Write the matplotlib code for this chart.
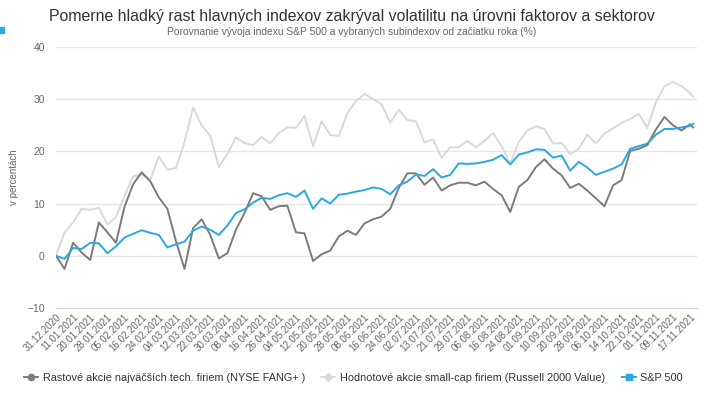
import numpy as np
import matplotlib
matplotlib.use('Agg')
import matplotlib.pyplot as plt
from matplotlib.patches import Rectangle

plt.rcParams['font.family'] = ['Liberation Sans', 'DejaVu Sans']

# Trading-day labels on the x axis (every 6th session)
date_labels = ['31.12.2020', '11.01.2021', '20.01.2021', '28.01.2021', '05.02.2021', '16.02.2021',
               '24.02.2021', '04.03.2021', '12.03.2021', '22.03.2021', '30.03.2021', '08.04.2021',
               '16.04.2021', '26.04.2021', '04.05.2021', '12.05.2021', '20.05.2021', '28.05.2021',
               '08.06.2021', '16.06.2021', '24.06.2021', '02.07.2021', '13.07.2021', '21.07.2021',
               '29.07.2021', '06.08.2021', '16.08.2021', '24.08.2021', '01.09.2021', '10.09.2021',
               '20.09.2021', '28.09.2021', '06.10.2021', '14.10.2021', '22.10.2021', '01.11.2021',
               '09.11.2021', '17.11.2021']
label_day = list(range(0, 223, 6))

day = list(range(0, 223, 3)) + [223]

fang = [0, -2.5, 2.5, 0.6, -0.8, 6.4, 4.5, 2.5, 9.4, 13.7, 16.0, 14.3, 11.2,
        9.0, 2.8, -2.5, 5.3, 7.0, 4.0, -0.5, 0.5, 5.0, 8.2, 12.0, 11.4, 8.8,
        9.5, 9.6, 4.5, 4.3, -1.0, 0.3, 1.0, 3.7, 4.8, 4.0, 6.2, 7.0, 7.5,
        9.0, 13.0, 15.8, 15.8, 13.6, 15.0, 12.5, 13.5, 14.0, 14.0, 13.5, 14.2, 12.8,
        11.6, 8.4, 13.2, 14.5, 17.0, 18.5, 16.7, 15.4, 13.0, 13.8, 12.5, 11.0,
        9.5, 13.5, 14.5, 20.1, 20.5, 21.2, 24.2, 26.6, 25.0, 24.0, 25.2, 24.6]

russell = [0, 4.5, 6.4, 9.0, 8.8, 9.2, 6.0, 7.4, 11.5, 15.2, 15.6, 14.5, 19.0,
           16.5, 16.8, 21.8, 28.4, 25.0, 23.0, 17.0, 19.5, 22.7, 21.6, 21.2, 22.8, 21.5,
           23.5, 24.6, 24.5, 26.8, 21.0, 25.8, 23.1, 23.0, 27.3, 29.6, 31.0, 30.0, 29.0,
           25.5, 28.0, 26.0, 25.8, 21.7, 22.3, 18.8, 20.8, 20.8, 22.0, 20.8, 22.0, 23.5,
           21.0, 17.7, 21.8, 24.0, 24.8, 24.3, 21.5, 21.6, 19.5, 20.5, 23.2, 21.5,
           23.4, 24.4, 25.5, 26.2, 27.2, 24.5, 29.4, 32.5, 33.3, 32.5, 31.2, 30.5]

sp500 = [0, -0.6, 1.5, 1.3, 2.5, 2.4, 0.5, 1.8, 3.5, 4.2, 4.9, 4.4, 4.0,
         1.6, 2.2, 2.7, 4.8, 5.6, 5.0, 4.0, 5.8, 8.2, 8.9, 10.2, 11.1, 10.9,
         11.6, 12.0, 11.3, 12.5, 9.0, 11.0, 10.0, 11.7, 11.9, 12.3, 12.6, 13.1, 12.8,
         11.8, 13.5, 14.2, 15.6, 15.3, 16.6, 15.0, 15.5, 17.7, 17.6, 17.7, 18.0, 18.4,
         19.3, 17.5, 19.4, 19.8, 20.4, 20.3, 18.8, 19.2, 16.3, 18.0, 16.9, 15.5,
         16.1, 16.7, 17.5, 20.5, 21.0, 21.5, 23.2, 24.3, 24.3, 24.6, 24.9, 25.3]

c_fang = '#7b7b7b'
c_russell = '#d9d9d9'
c_sp = '#2aa8e4'

fig = plt.figure(figsize=(7.04, 4.00), dpi=100)
ax = fig.add_axes([0.0795, 0.23, 0.911, 0.6525])

ax.plot(day, russell, color=c_russell, lw=1.4, zorder=2)
ax.plot(day, fang, color=c_fang, lw=1.4, zorder=3)
ax.plot(day, sp500, color=c_sp, lw=1.4, zorder=4)

ax.set_xlim(0, 224.5)
ax.set_ylim(-10, 40)
ax.set_yticks(range(-10, 41, 10))
ax.set_xticks(label_day)
ax.set_xticklabels(date_labels, rotation=45, ha='right', rotation_mode='anchor')
ax.tick_params(axis='x', length=0, labelsize=7, labelcolor='#666666', pad=3)
ax.tick_params(axis='y', length=0, labelsize=7.5, labelcolor='#666666', pad=8)
ax.grid(axis='y', color='#e6e6e6', lw=1)
ax.set_axisbelow(True)
for s in ['top', 'right', 'left']:
    ax.spines[s].set_visible(False)
ax.spines['bottom'].set_color('#ccd6eb')
ax.spines['bottom'].set_zorder(1)
ax.set_ylabel('v percentách', fontsize=7, color='#666666')
ax.yaxis.set_label_coords(-0.057, 0.5)

fig.text(0.5, 0.960, 'Pomerne hladký rast hlavných indexov zakrýval volatilitu na úrovni faktorov a sektorov',
         ha='center', va='center', fontsize=11.4, color='#333333')
fig.text(0.5, 0.920, 'Porovnanie vývoja indexu S&P 500 a vybraných subindexov od začiatku roka (%)',
         ha='center', va='center', fontsize=7.4, color='#666666')
fig.patches.append(Rectangle((0, 0.918), 0.006, 0.015, transform=fig.transFigure,
                             color=c_sp, zorder=5))

handles = [
    plt.Line2D([], [], color=c_fang, lw=1.4, marker='o', markersize=4.5),
    plt.Line2D([], [], color=c_russell, lw=1.4, marker='D', markersize=4),
    plt.Line2D([], [], color=c_sp, lw=1.4, marker='s', markersize=4.5),
]
labels = ['Rastové akcie najväčších tech. firiem (NYSE FANG+ )',
          'Hodnotové akcie small-cap firiem (Russell 2000 Value)',
          'S&P 500']
leg = fig.legend(handles, labels, loc='center', bbox_to_anchor=(0.502, 0.055), ncol=3,
                 frameon=False, fontsize=7.8, handlelength=1.3, handletextpad=0.45,
                 columnspacing=1.5)
for t in leg.get_texts():
    t.set_color('#333333')

fig.savefig('out.png', dpi=100)
